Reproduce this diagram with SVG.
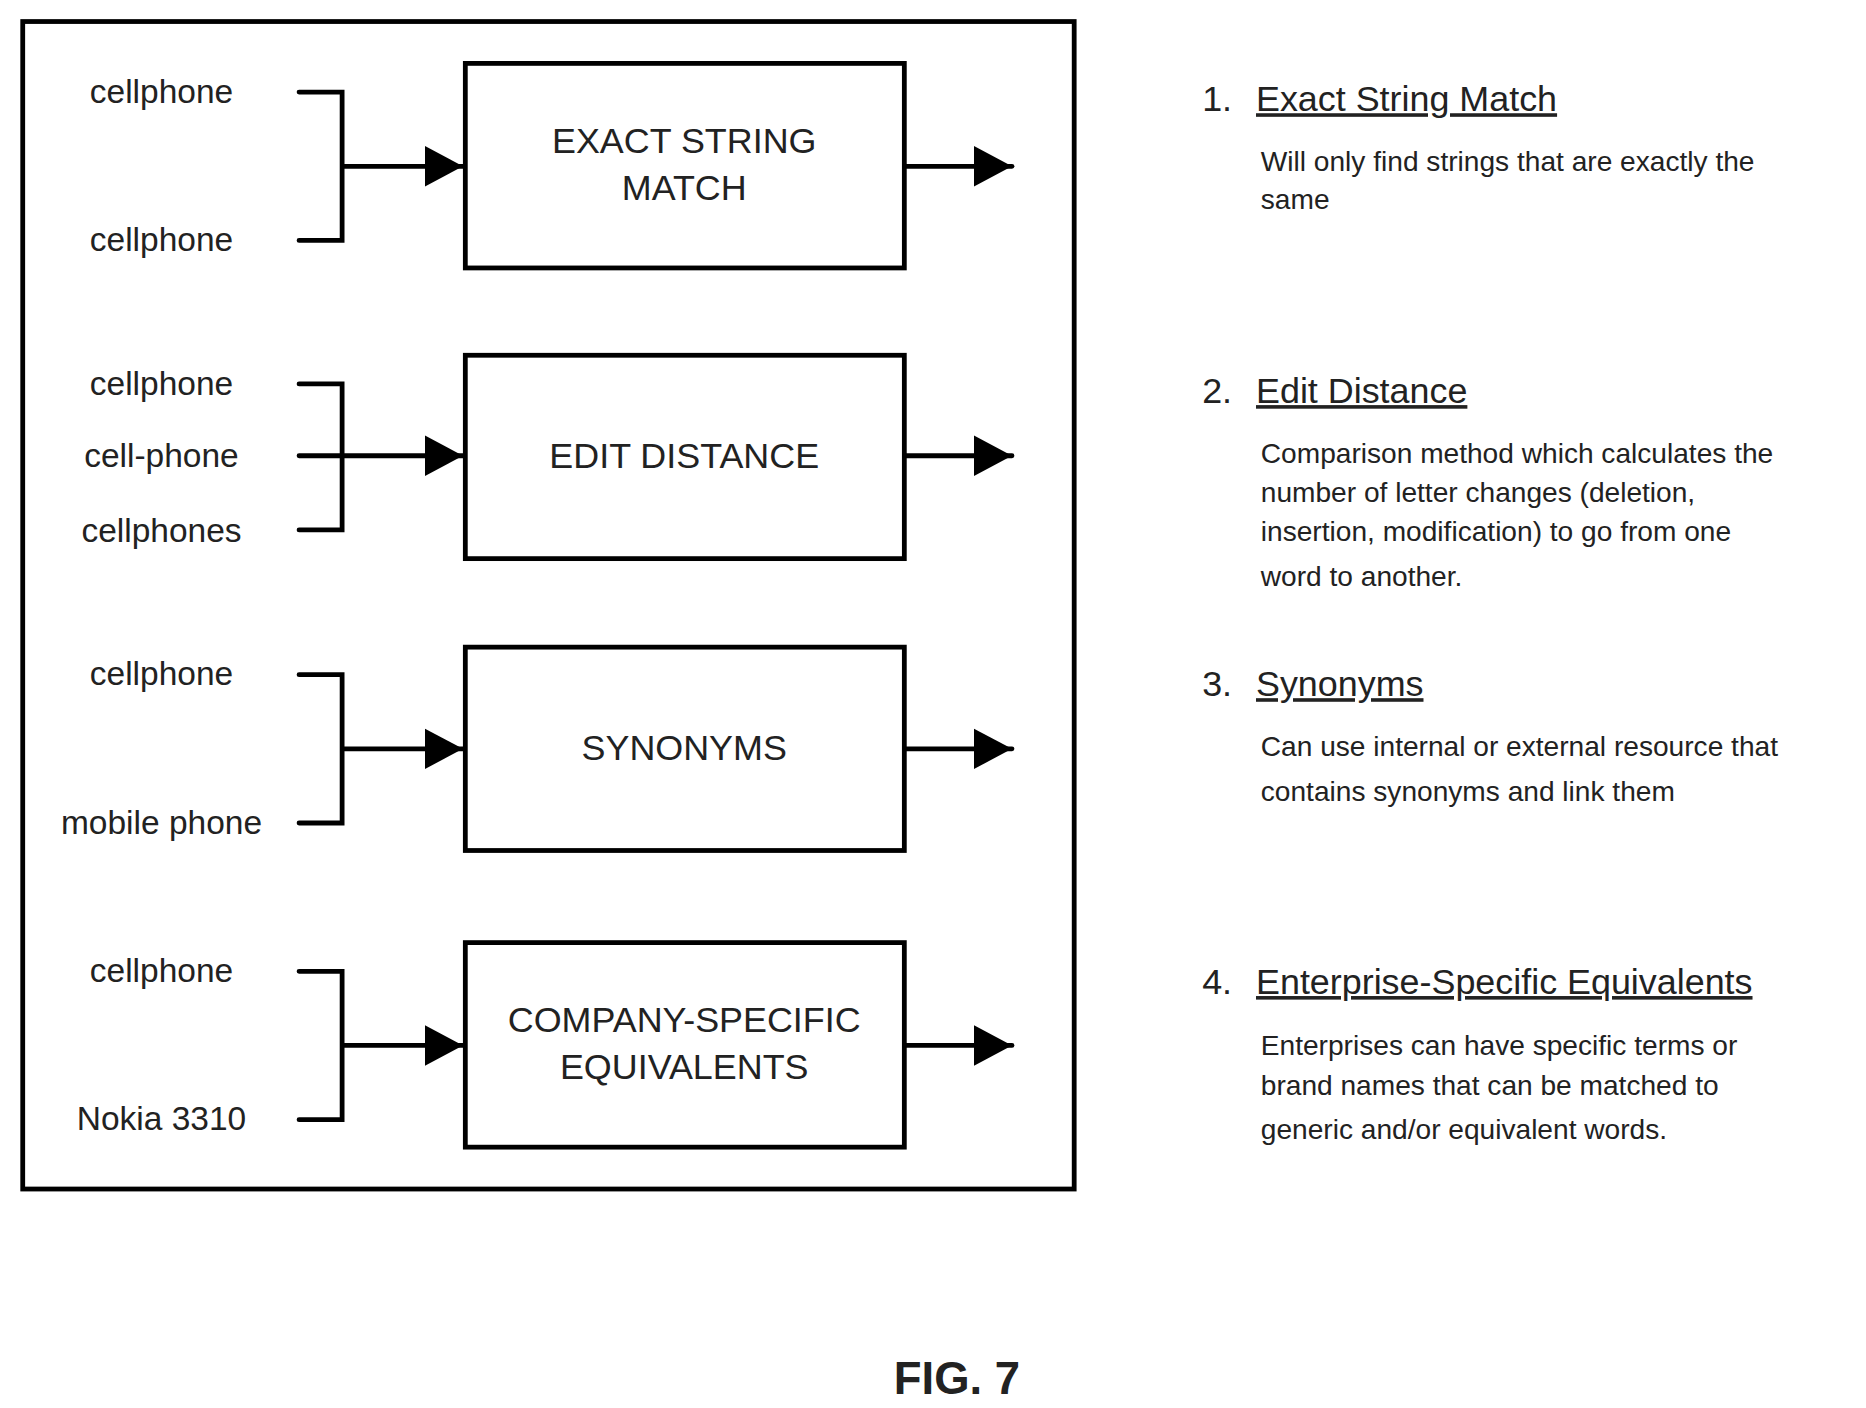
<svg xmlns="http://www.w3.org/2000/svg" width="1866" height="1408" viewBox="0 0 1866 1408">
<style>
text{font-family:"Liberation Sans",Arial,sans-serif;fill:#222}
.l{font-size:28px;text-anchor:middle}
.b{font-size:30px;text-anchor:middle}
.t{font-size:30px}
.u{text-decoration:underline}
.d{font-size:23.5px}
.box{fill:#fff;stroke:#000;stroke-width:4}
.c{fill:none;stroke:#000;stroke-width:4;stroke-linecap:round}
</style>
<defs><marker id="a" markerUnits="userSpaceOnUse" markerWidth="34" markerHeight="34" refX="32" refY="17" orient="auto"><path d="M0,0 L32,17 L0,34 Z" fill="#000"/></marker></defs>
<rect width="1866" height="1408" fill="#fff"/>
<g transform="scale(1.1962)">
<rect x="19" y="18" width="879" height="976" fill="none" stroke="#000" stroke-width="4"/>
<g id="connectors">
<path class="c" d="M250,77 H286 V201 H250 M286,139 H387" marker-end="url(#a)"/>
<path class="c" d="M756,139 H846" marker-end="url(#a)"/>
<path class="c" d="M250,321 H286 V443 H250 M250,381 H387" marker-end="url(#a)"/>
<path class="c" d="M756,381 H846" marker-end="url(#a)"/>
<path class="c" d="M250,564 H286 V688 H250 M286,626 H387" marker-end="url(#a)"/>
<path class="c" d="M756,626 H846" marker-end="url(#a)"/>
<path class="c" d="M250,812 H286 V936 H250 M286,874 H387" marker-end="url(#a)"/>
<path class="c" d="M756,874 H846" marker-end="url(#a)"/>
</g>
<g id="inputs">
<text class="l" x="135" y="86">cellphone</text>
<text class="l" x="135" y="210">cellphone</text>
<text class="l" x="135" y="330">cellphone</text>
<text class="l" x="135" y="390">cell-phone</text>
<text class="l" x="135" y="453">cellphones</text>
<text class="l" x="135" y="573">cellphone</text>
<text class="l" x="135" y="697">mobile phone</text>
<text class="l" x="135" y="821">cellphone</text>
<text class="l" x="135" y="945">Nokia 3310</text>
</g>
<g id="exact"><rect class="box" x="389" y="53" width="367" height="171"/><text class="b" x="572" y="128">EXACT STRING</text><text class="b" x="572" y="167">MATCH</text></g>
<g id="edit"><rect class="box" x="389" y="297" width="367" height="170"/><text class="b" x="572" y="391">EDIT DISTANCE</text></g>
<g id="syn"><rect class="box" x="389" y="541" width="367" height="170"/><text class="b" x="572" y="635">SYNONYMS</text></g>
<g id="company"><rect class="box" x="389" y="788" width="367" height="171"/><text class="b" x="572" y="863">COMPANY-SPECIFIC</text><text class="b" x="572" y="902">EQUIVALENTS</text></g>
<g id="notes">
<text class="t" x="1005" y="93">1.</text><text class="t u" x="1050" y="93">Exact String Match</text>
<text class="d" x="1054" y="143">Will only find strings that are exactly the</text>
<text class="d" x="1054" y="175">same</text>
<text class="t" x="1005" y="337">2.</text><text class="t u" x="1050" y="337">Edit Distance</text>
<text class="d" x="1054" y="387">Comparison method which calculates the</text>
<text class="d" x="1054" y="420">number of letter changes (deletion,</text>
<text class="d" x="1054" y="452">insertion, modification) to go from one</text>
<text class="d" x="1054" y="490">word to another.</text>
<text class="t" x="1005" y="582">3.</text><text class="t u" x="1050" y="582">Synonyms</text>
<text class="d" x="1054" y="632">Can use internal or external resource that</text>
<text class="d" x="1054" y="670">contains synonyms and link them</text>
<text class="t" x="1005" y="831">4.</text><text class="t u" x="1050" y="831">Enterprise-Specific Equivalents</text>
<text class="d" x="1054" y="882">Enterprises can have specific terms or</text>
<text class="d" x="1054" y="915">brand names that can be matched to</text>
<text class="d" x="1054" y="952">generic and/or equivalent words.</text>
</g>
<text x="800" y="1165" style="font-size:38px;font-weight:bold;text-anchor:middle">FIG. 7</text>
</g>
</svg>
